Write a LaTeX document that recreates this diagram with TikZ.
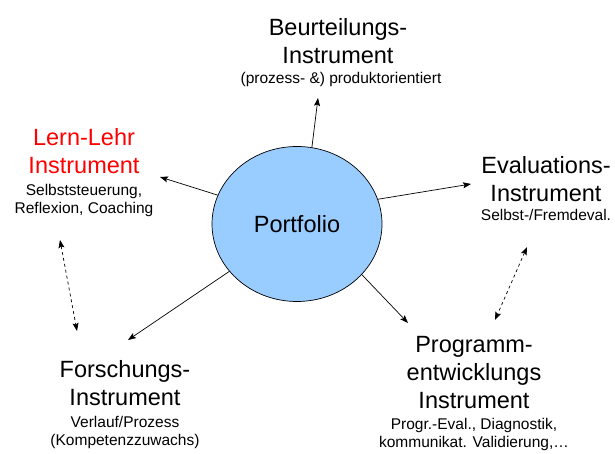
\documentclass[tikz,border=0pt]{standalone}
\usepackage{fontspec}
\setmainfont{Liberation Sans}
\usepackage{xcolor}
\usetikzlibrary{positioning, arrows.meta, shapes.geometric}

\definecolor{portblue}{RGB}{153,204,255}
\definecolor{lernred}{RGB}{255,0,0}

\tikzset{
	big text/.style={font=\fontsize{23.5}{28}\selectfont, align=center, inner sep=0pt},
	small text/.style={font=\fontsize{15.5}{18}\selectfont, align=center, inner sep=0pt},
	tip/.tip={Stealth[length=8pt, width=6pt, inset=1.5pt]}
}

\begin{document}
\begin{tikzpicture}[x=1pt, y=1pt, line width=0.7pt]
		\useasboundingbox (0,0) rectangle (615,454);
		
		\node [ellipse, draw, fill=portblue, minimum width=170pt, minimum height=155pt, inner sep=0pt, big text] (portfolio) at (297,230) {Portfolio};
		
		% text blocks
		\node [big text, anchor=north] (beurt) at (338,436) {Beurteilungs-\\Instrument};
		\node [small text, below=8pt of beurt, xshift=3pt] (beurt sub) {(prozess- \&) produktorientiert};
		
		\node [big text, anchor=north, lernred] (lern) at (84,326) {Lern-Lehr\\Instrument};
		\node [small text, below=10pt of lern] (lern sub) {Selbststeuerung,\\Reflexion, Coaching};
		
		\node [big text, anchor=north] (eval) at (546,298) {Evaluations-\\Instrument};
		\node [small text, below=7pt of eval] (eval sub) {Selbst-/Fremdeval.};
		
		\node [big text, anchor=north] (forsch) at (125,94) {Forschungs-\\Instrument};
		\node [small text, below=10pt of forsch] (forsch sub) {Verlauf/Prozess\\(Kompetenzzuwachs)};
		
		\node [big text, anchor=north] (progr) at (474,118) {Programm-\\entwicklungs\\Instrument};
		\node [small text, below=9pt of progr] (progr sub) {Progr.-Eval., Diagnostik,\\kommunikat. Validierung,\dots};
		
		\coordinate (beurt tip) at (318,356);
		\coordinate (lern tip) at (160,277);
		\coordinate (eval tip) at (471,270);
		\coordinate (forsch tip) at (128,114);
		\coordinate (progr tip) at (408,131);
		
		\coordinate (lern dash) at (60,214);
		\coordinate (forsch dash) at (77,123);
		\coordinate (eval dash) at (527,207);
		\coordinate (progr dash) at (495,134);
		
		\begin{scope}[-tip]
			\draw (portfolio.79) -- (beurt tip);
			\draw (portfolio.160) -- (lern tip);
			\draw (portfolio.17) -- (eval tip);
			\draw (portfolio.215) -- (forsch tip);
			\draw (portfolio.322) -- (progr tip);
		\end{scope}
		
		\begin{scope}[tip-tip, dashed]
			\draw (lern dash) -- (forsch dash);
			\draw (eval dash) -- (progr dash);
		\end{scope}
	\end{tikzpicture}
\end{document}
